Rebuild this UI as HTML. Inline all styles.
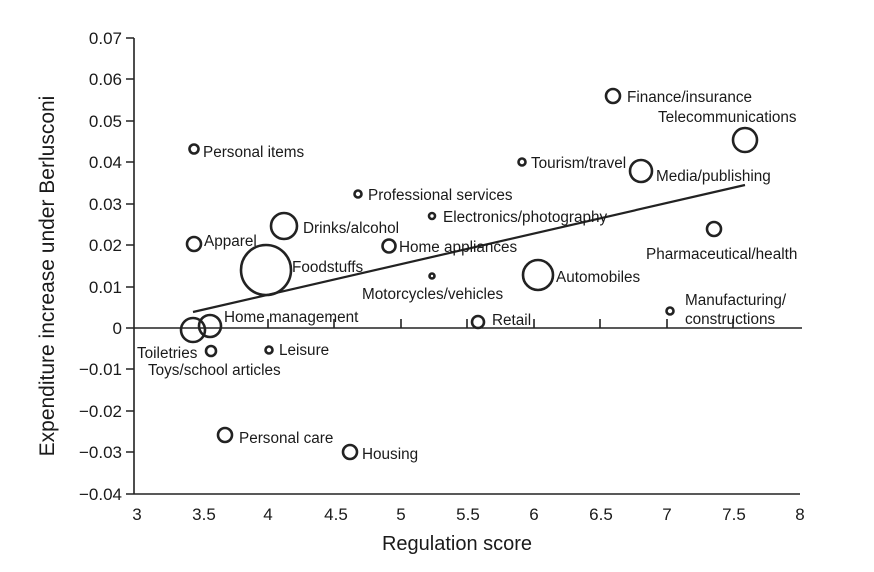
<!DOCTYPE html>
<html><head><meta charset="utf-8"><style>html,body{margin:0;padding:0;background:#fff}svg{display:block}</style></head>
<body>
<svg width="874" height="572" viewBox="0 0 874 572" xmlns="http://www.w3.org/2000/svg" font-family="Liberation Sans, Arial, sans-serif" fill="#1a1a1a">
<g stroke="#222" stroke-width="1.6" fill="none">
<line x1="134" y1="38" x2="134" y2="494"/>
<line x1="134" y1="494" x2="800" y2="494"/>
<line x1="134" y1="328" x2="802" y2="328"/>
<path d="M126 38H134M126 79H134M126 121H134M126 162H134M126 204H134M126 245H134M126 287H134M126 328H134M126 369H134M126 411H134M126 452H134M126 494H134"/>
<path d="M268 328V319M334 328V319M401 328V319M467 328V319M534 328V319M600 328V319M667 328V319M733 328V319"/>
</g>
<g font-size="17" text-anchor="end">
<text x="122" y="44">0.07</text><text x="122" y="85">0.06</text><text x="122" y="127">0.05</text><text x="122" y="168">0.04</text><text x="122" y="210">0.03</text><text x="122" y="251">0.02</text><text x="122" y="293">0.01</text><text x="122" y="334">0</text><text x="122" y="375">−0.01</text><text x="122" y="417">−0.02</text><text x="122" y="458">−0.03</text><text x="122" y="500">−0.04</text>
</g>
<g font-size="17" text-anchor="middle">
<text x="137" y="520">3</text><text x="204" y="520">3.5</text><text x="268" y="520">4</text><text x="336" y="520">4.5</text><text x="401" y="520">5</text><text x="468" y="520">5.5</text><text x="534" y="520">6</text><text x="601" y="520">6.5</text><text x="667" y="520">7</text><text x="734" y="520">7.5</text><text x="800" y="520">8</text>
</g>
<text x="457" y="550" font-size="20" text-anchor="middle">Regulation score</text>
<text transform="translate(54,276) rotate(-90)" font-size="21" text-anchor="middle">Expenditure increase under Berlusconi</text>
<line x1="193" y1="312" x2="745" y2="185" stroke="#222" stroke-width="2.2"/>
<g stroke="#222" stroke-width="2.6" fill="none">
<circle cx="613" cy="96" r="7"/>
<circle cx="745" cy="140" r="12"/>
<circle cx="194" cy="149" r="4.5"/>
<circle cx="522" cy="162" r="3.5"/>
<circle cx="641" cy="171" r="11"/>
<circle cx="358" cy="194" r="3.5"/>
<circle cx="432" cy="216" r="3"/>
<circle cx="284" cy="226" r="13"/>
<circle cx="194" cy="244" r="7"/>
<circle cx="389" cy="246" r="6.5"/>
<circle cx="714" cy="229" r="7"/>
<circle cx="266" cy="270" r="25"/>
<circle cx="432" cy="276" r="2.5"/>
<circle cx="538" cy="275" r="15"/>
<circle cx="670" cy="311" r="3.5"/>
<circle cx="478" cy="322" r="6"/>
<circle cx="210" cy="326" r="11"/>
<circle cx="193" cy="330" r="12"/>
<circle cx="211" cy="351" r="5"/>
<circle cx="269" cy="350" r="3.5"/>
<circle cx="225" cy="435" r="7"/>
<circle cx="350" cy="452" r="7"/>
</g>
<g font-size="15.3">
<text x="627" y="102">Finance/insurance</text>
<text x="658" y="122">Telecommunications</text>
<text x="203" y="157">Personal items</text>
<text x="531" y="168">Tourism/travel</text>
<text x="656" y="181">Media/publishing</text>
<text x="368" y="200">Professional services</text>
<text x="443" y="222">Electronics/photography</text>
<text x="303" y="233">Drinks/alcohol</text>
<text x="204" y="246">Apparel</text>
<text x="399" y="252">Home appliances</text>
<text x="646" y="259">Pharmaceutical/health</text>
<text x="292" y="272">Foodstuffs</text>
<text x="362" y="299">Motorcycles/vehicles</text>
<text x="556" y="282">Automobiles</text>
<text x="685" y="305">Manufacturing/</text>
<text x="685" y="324">constructions</text>
<text x="492" y="325">Retail</text>
<text x="224" y="322">Home management</text>
<text x="137" y="358">Toiletries</text>
<text x="148" y="375">Toys/school articles</text>
<text x="279" y="355">Leisure</text>
<text x="239" y="443">Personal care</text>
<text x="362" y="459">Housing</text>
</g>
</svg>
</body></html>
